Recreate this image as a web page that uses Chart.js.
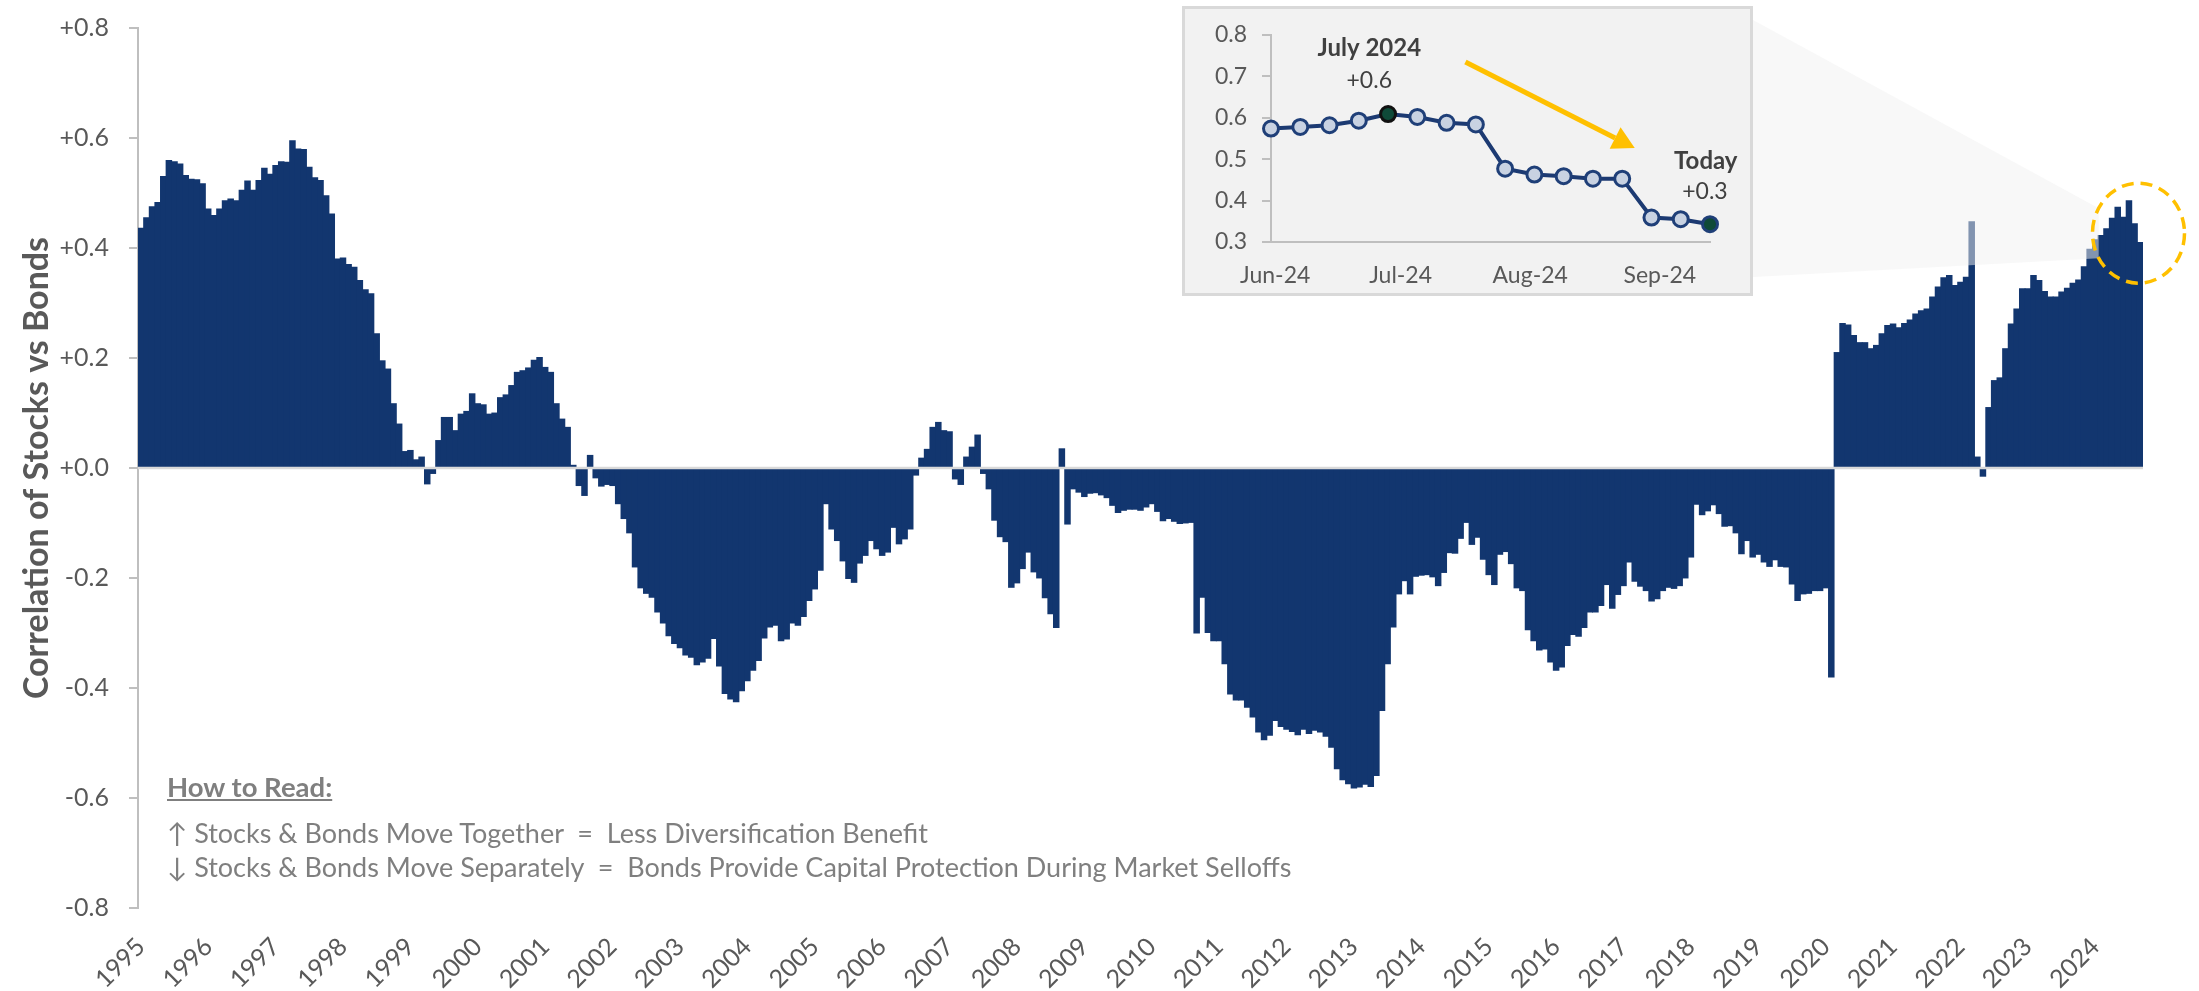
<!DOCTYPE html>
<html>
<head>
<meta charset="utf-8">
<script src="https://cdn.jsdelivr.net/npm/chart.js@4.4.1/dist/chart.umd.min.js"></script>
<style>
  html, body { margin:0; padding:0; background:#ffffff; }
  body { width:2199px; height:991px; position:relative; overflow:hidden; font-family: Lato, 'DejaVu Sans', sans-serif; }
  #main { position:absolute; left:0; top:0; }
  #insetBox { position:absolute; left:1182px; top:6px; width:571px; height:290px; box-sizing:border-box;
              border:3px solid #d9d9d9; background:#f2f2f2; }
  #insetBox canvas { display:block; }
  .note { position:absolute; left:167px; color:#7f7f7f; white-space:pre; font-family: Lato, 'DejaVu Sans', sans-serif; }
</style>
</head>
<body>
<canvas id="main" width="2199" height="991"></canvas>
<div id="insetBox"><canvas id="inset" width="565" height="284"></canvas></div>
<div id="notes"></div>
<script>
// ---------------- DATA ----------------
const years = ['1995','1996','1997','1998','1999','2000','2001','2002','2003','2004','2005','2006','2007','2008','2009',
               '2010','2011','2012','2013','2014','2015','2016','2017','2018','2019','2020','2021','2022','2023','2024'];
const months = ['01','02','03','04','05','06','07','08','09','10','11','12'];

// monthly stock/bond correlation
const corr1995_1999 = [
  0.436, 0.455, 0.475, 0.483, 0.530, 0.559, 0.557, 0.553, 0.532, 0.525, 0.524, 0.517,
  0.471, 0.459, 0.471, 0.486, 0.489, 0.486, 0.505, 0.522, 0.505, 0.523, 0.545, 0.534,
  0.550, 0.557, 0.556, 0.595, 0.580, 0.579, 0.547, 0.528, 0.523, 0.495, 0.462, 0.380,
  0.382, 0.370, 0.365, 0.341, 0.324, 0.317, 0.244, 0.195, 0.180, 0.117, 0.080, 0.030,
  0.032, 0.015, 0.020, -0.029, -0.010, 0.050, 0.092, 0.092, 0.068, 0.098, 0.103, 0.135
];
const corr2000_2004 = [
  0.117, 0.115, 0.098, 0.100, 0.128, 0.133, 0.150, 0.174, 0.177, 0.182, 0.196, 0.201,
  0.183, 0.174, 0.117, 0.089, 0.074, 0.005, -0.032, -0.050, 0.023, -0.018, -0.033, -0.030,
  -0.032, -0.065, -0.092, -0.118, -0.180, -0.218, -0.228, -0.235, -0.262, -0.282, -0.305, -0.319,
  -0.327, -0.340, -0.344, -0.358, -0.353, -0.346, -0.310, -0.360, -0.410, -0.420, -0.425, -0.405,
  -0.387, -0.368, -0.350, -0.309, -0.289, -0.286, -0.314, -0.311, -0.282, -0.286, -0.270, -0.241
];
const corr2005_2009 = [
  -0.220, -0.186, -0.065, -0.111, -0.132, -0.169, -0.201, -0.208, -0.173, -0.159, -0.132, -0.147,
  -0.159, -0.153, -0.108, -0.138, -0.129, -0.111, -0.013, 0.018, 0.034, 0.074, 0.083, 0.068,
  0.066, -0.020, -0.030, 0.020, 0.038, 0.060, -0.010, -0.038, -0.095, -0.125, -0.134, -0.217,
  -0.209, -0.183, -0.153, -0.189, -0.200, -0.236, -0.265, -0.290, 0.035, -0.102, -0.038, -0.044,
  -0.052, -0.046, -0.045, -0.049, -0.054, -0.068, -0.081, -0.077, -0.075, -0.075, -0.077, -0.071
];
const corr2010_2014 = [
  -0.065, -0.079, -0.096, -0.092, -0.097, -0.101, -0.100, -0.099, -0.300, -0.235, -0.299, -0.314,
  -0.314, -0.356, -0.411, -0.422, -0.422, -0.435, -0.453, -0.480, -0.494, -0.486, -0.459, -0.470,
  -0.475, -0.479, -0.485, -0.475, -0.483, -0.477, -0.480, -0.488, -0.508, -0.547, -0.567, -0.574,
  -0.582, -0.580, -0.575, -0.579, -0.559, -0.441, -0.356, -0.289, -0.229, -0.205, -0.229, -0.197,
  -0.195, -0.194, -0.198, -0.214, -0.190, -0.154, -0.155, -0.128, -0.099, -0.139, -0.126, -0.166
];
const corr2015_2019 = [
  -0.194, -0.212, -0.157, -0.152, -0.174, -0.218, -0.223, -0.294, -0.314, -0.331, -0.329, -0.353,
  -0.368, -0.362, -0.323, -0.303, -0.306, -0.290, -0.262, -0.262, -0.250, -0.212, -0.255, -0.230,
  -0.214, -0.171, -0.206, -0.215, -0.223, -0.242, -0.238, -0.223, -0.217, -0.219, -0.214, -0.200,
  -0.162, -0.066, -0.085, -0.078, -0.067, -0.083, -0.106, -0.105, -0.118, -0.156, -0.132, -0.162,
  -0.157, -0.171, -0.179, -0.167, -0.179, -0.180, -0.211, -0.241, -0.229, -0.228, -0.223, -0.223
];
const corr2020_2024 = [
  -0.218, -0.380, 0.210, 0.263, 0.260, 0.241, 0.228, 0.228, 0.217, 0.223, 0.244, 0.259,
  0.262, 0.255, 0.263, 0.269, 0.280, 0.286, 0.289, 0.311, 0.329, 0.346, 0.350, 0.332,
  0.338, 0.347, 0.448, 0.020, -0.015, 0.110, 0.159, 0.164, 0.217, 0.262, 0.289, 0.326,
  0.326, 0.350, 0.341, 0.321, 0.311, 0.311, 0.320, 0.327, 0.336, 0.342, 0.366, 0.398,
  0.415, 0.423, 0.435, 0.454, 0.474, 0.456, 0.486, 0.444, 0.410
];

const yTickMin = -0.8, yTickMax = 0.8, yTickStep = 0.2;
const yAxisTitle = 'Correlation of Stocks vs Bonds';

// inset: weekly values Jun–Sep 2024 (x = days from 1 Jun 2024)
const insetDays = [-1, 6, 13, 20, 27, 34, 41, 48, 55, 62, 69, 76, 83, 90, 97, 104];
const insetCorr = [0.574, 0.578, 0.582, 0.593, 0.609, 0.602, 0.588, 0.584, 0.477, 0.463, 0.459, 0.453, 0.453, 0.359, 0.355, 0.343];
const insetTickDays = [0, 30, 61, 92];
const insetTickLabels = ['Jun-24', 'Jul-24', 'Aug-24', 'Sep-24'];
const insetPeakIndex = 4;
const insetTodayIndex = 15;
const insetPeakText = ['July 2024', '+0.6'];
const insetTodayText = ['Today', '+0.3'];

const howToTitle = 'How to Read:';
const howToLines = [
  '\u2191 Stocks & Bonds Move Together  =  Less Diversification Benefit',
  '\u2193 Stocks & Bonds Move Separately  =  Bonds Provide Capital Protection During Market Selloffs'
];

// ---------------- BUILD ----------------
const corrValues = [].concat(corr1995_1999, corr2000_2004, corr2005_2009, corr2010_2014, corr2015_2019, corr2020_2024);
const categories = [];
years.forEach(y => months.forEach(m => categories.push(y + '-' + m)));
categories.length = corrValues.length;

const FONT = "Lato, 'DejaVu Sans', sans-serif";
const NAVY = '#12366f';
const GOLD = '#ffc000';
const AXIS_GRAY = '#bfbfbf';
const TEXT_GRAY = '#595959';

// notes (How to Read)
(function () {
  const wrap = document.getElementById('notes');
  const t = document.createElement('div');
  t.className = 'note';
  t.textContent = howToTitle;
  t.style.cssText += 'top:773px;font-weight:bold;font-size:27.5px;line-height:27px;text-decoration:underline;';
  wrap.appendChild(t);
  const tops = [819, 853];
  howToLines.forEach((s, i) => {
    const d = document.createElement('div');
    d.className = 'note';
    d.textContent = s;
    d.style.cssText += 'top:' + tops[i] + 'px;font-size:27px;line-height:27px;';
    wrap.appendChild(d);
  });
})();

// overlay plugin for the main chart: zero line, zoom wedge, dashed circle
const mainOverlay = {
  id: 'mainOverlay',
  afterDatasetsDraw(chart) {
    const { ctx, chartArea, scales } = chart;
    const x = scales.x, y = scales.y;
    ctx.save();
    // zero line
    const y0 = y.getPixelForValue(0);
    ctx.strokeStyle = '#d9d9d9';
    ctx.lineWidth = 2.5;
    ctx.beginPath();
    ctx.moveTo(chartArea.left, y0);
    ctx.lineTo(chartArea.right, y0);
    ctx.stroke();

    // dashed circle around the latest values
    const cx = x.getPixelForValue(corrValues.length - 1.3);
    const cy = y.getPixelForValue(0.427);
    const rx = 46, ry = 50;

    // wedge from the inset box to the circle
    const box = document.getElementById('insetBox').getBoundingClientRect();
    const a1 = Math.PI * 7 / 6, a2 = Math.PI * 5 / 6;
    ctx.fillStyle = 'rgba(242,242,242,0.5)';
    ctx.beginPath();
    ctx.moveTo(box.right, box.top + 14);
    ctx.lineTo(cx + rx * Math.cos(a1), cy + ry * Math.sin(a1));
    ctx.lineTo(cx + rx * Math.cos(a2), cy + ry * Math.sin(a2));
    ctx.lineTo(box.right, box.bottom - 19);
    ctx.closePath();
    ctx.fill();

    ctx.strokeStyle = GOLD;
    ctx.lineWidth = 3.5;
    ctx.setLineDash([12, 7]);
    ctx.beginPath();
    ctx.ellipse(cx, cy, rx, ry, 0, 0, Math.PI * 2);
    ctx.stroke();
    ctx.restore();
  }
};

new Chart(document.getElementById('main'), {
  type: 'bar',
  data: {
    labels: categories,
    datasets: [{
      data: corrValues,
      backgroundColor: NAVY,
      borderWidth: 0,
      barPercentage: 1,
      categoryPercentage: 1,
      inflateAmount: 0.45
    }]
  },
  options: {
    responsive: false,
    animation: false,
    devicePixelRatio: 1,
    layout: { padding: { left: 0, top: 28, right: 56, bottom: 0 } },
    plugins: { legend: { display: false }, tooltip: { enabled: false } },
    scales: {
      x: {
        type: 'category',
        grid: { display: false, drawTicks: false },
        border: { display: false },
        ticks: {
          autoSkip: false,
          minRotation: 45,
          maxRotation: 45,
          padding: 24,
          color: TEXT_GRAY,
          font: { family: FONT, size: 25 },
          callback: (v) => categories[v].slice(0, 4)
        },
        afterBuildTicks: (s) => { s.ticks = s.ticks.filter(t => t.value % 12 === 0); },
        afterFit: (s) => { s.height = 83; }
      },
      y: {
        min: yTickMin,
        max: yTickMax,
        ticks: {
          stepSize: yTickStep,
          padding: 20,
          color: TEXT_GRAY,
          font: { family: FONT, size: 25 },
          callback: (v) => (Math.abs(v) < 1e-9 ? '+0.0' : (v > 0 ? '+' + v.toFixed(1) : v.toFixed(1)))
        },
        grid: { drawOnChartArea: false, drawTicks: true, tickLength: 9, color: AXIS_GRAY, lineWidth: 2 },
        border: { display: true, color: AXIS_GRAY, width: 2 },
        title: {
          display: true,
          text: yAxisTitle,
          color: TEXT_GRAY,
          font: { family: FONT, size: 34, weight: 'bold' },
          padding: { top: 17, bottom: 0 }
        },
        afterFit: (s) => { s.width = 138; s.paddingTop = 0; s.paddingBottom = 0; }
      }
    }
  },
  plugins: [mainOverlay]
});

// ---------------- INSET ----------------
function drawArrow(ctx, x1, y1, x2, y2, color, width, headLen, headWidth) {
  const ang = Math.atan2(y2 - y1, x2 - x1);
  const bx = x2 - headLen * Math.cos(ang), by = y2 - headLen * Math.sin(ang);
  ctx.strokeStyle = color;
  ctx.lineWidth = width;
  ctx.beginPath(); ctx.moveTo(x1, y1); ctx.lineTo(bx, by); ctx.stroke();
  ctx.fillStyle = color;
  ctx.beginPath();
  ctx.moveTo(x2, y2);
  ctx.lineTo(bx + headWidth / 2 * Math.sin(ang), by - headWidth / 2 * Math.cos(ang));
  ctx.lineTo(bx - headWidth / 2 * Math.sin(ang), by + headWidth / 2 * Math.cos(ang));
  ctx.closePath();
  ctx.fill();
}

const insetNotes = {
  id: 'insetNotes',
  afterDatasetsDraw(chart) {
    const { ctx, scales } = chart;
    const x = scales.x, y = scales.y;
    ctx.save();
    drawArrow(ctx, x.getPixelForValue(45.5), y.getPixelForValue(0.735),
                   x.getPixelForValue(86), y.getPixelForValue(0.527), GOLD, 5, 22, 24);
    ctx.fillStyle = '#404040';
    ctx.textAlign = 'center';
    ctx.textBaseline = 'middle';
    ctx.font = 'bold 24px ' + FONT;
    ctx.fillText(insetPeakText[0], x.getPixelForValue(22.5), y.getPixelForValue(0.769));
    ctx.fillText(insetTodayText[0], x.getPixelForValue(103), y.getPixelForValue(0.496));
    ctx.font = '23px ' + FONT;
    ctx.fillText(insetPeakText[1], x.getPixelForValue(22.5), y.getPixelForValue(0.691));
    ctx.fillText(insetTodayText[1], x.getPixelForValue(102.8), y.getPixelForValue(0.421));
    ctx.restore();
  }
};

const insetPointFill = insetCorr.map((v, i) => (i === insetPeakIndex || i === insetTodayIndex) ? '#0f4a38' : '#c8d2e2');
const insetPointBorder = insetCorr.map((v, i) => i === insetPeakIndex ? '#111111' : '#1f3f78');

new Chart(document.getElementById('inset'), {
  type: 'line',
  data: {
    datasets: [{
      data: insetDays.map((d, i) => ({ x: d, y: insetCorr[i] })),
      borderColor: '#1c3a72',
      borderWidth: 4,
      pointRadius: 7.5,
      pointBorderWidth: 3,
      pointBackgroundColor: insetPointFill,
      pointBorderColor: insetPointBorder,
      tension: 0,
      clip: false
    }]
  },
  options: {
    responsive: false,
    animation: false,
    devicePixelRatio: 1,
    layout: { padding: { left: 0, top: 26, right: 40, bottom: 0 } },
    plugins: { legend: { display: false }, tooltip: { enabled: false } },
    scales: {
      x: {
        type: 'linear',
        min: insetDays[0],
        max: insetDays[insetDays.length - 1],
        grid: { display: false, drawTicks: false },
        border: { display: true, color: AXIS_GRAY, width: 2 },
        afterBuildTicks: (s) => { s.ticks = insetTickDays.map(v => ({ value: v })); },
        ticks: {
          autoSkip: false,
          maxRotation: 0,
          padding: 20,
          color: TEXT_GRAY,
          font: { family: FONT, size: 23 },
          callback: (v) => insetTickLabels[insetTickDays.indexOf(v)]
        },
        afterFit: (s) => { s.height = 51; s.paddingLeft = 0; s.paddingRight = 0; }
      },
      y: {
        min: 0.3,
        max: 0.8,
        ticks: {
          stepSize: 0.1,
          padding: 15,
          color: TEXT_GRAY,
          font: { family: FONT, size: 23 },
          callback: (v) => v.toFixed(1)
        },
        grid: { drawOnChartArea: false, drawTicks: true, tickLength: 9, color: AXIS_GRAY, lineWidth: 2 },
        border: { display: true, color: AXIS_GRAY, width: 2 },
        afterFit: (s) => { s.width = 86; s.paddingTop = 0; s.paddingBottom = 0; }
      }
    }
  },
  plugins: [insetNotes]
});
</script>
</body>
</html>
